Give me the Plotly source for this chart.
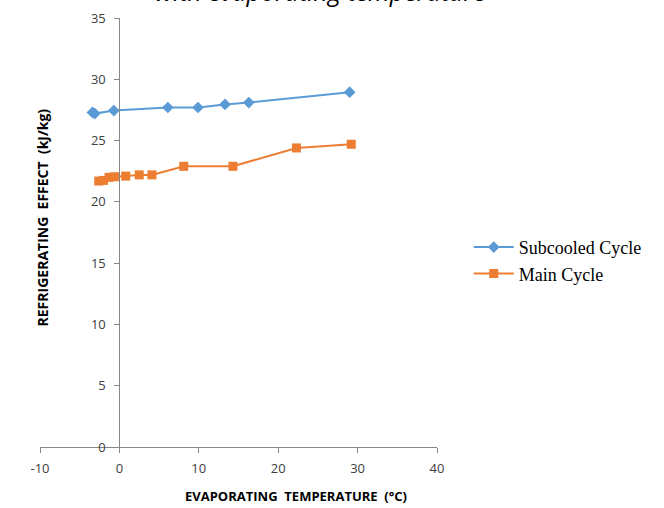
import plotly.graph_objects as go

sub_t = [-3.4, -3.1, -0.7, 6.1, 9.9, 13.3, 16.3, 29.0]
sub_v = [27.3, 27.2, 27.45, 27.7, 27.7, 27.95, 28.1, 28.95]

main_t = [-2.6, -2.0, -1.3, -0.6, 0.8, 2.5, 4.1, 8.1, 14.3, 22.3, 29.2]
main_v = [21.7, 21.75, 22.0, 22.05, 22.1, 22.2, 22.2, 22.9, 22.9, 24.4, 24.7]

x_ticks = [-10, 0, 10, 20, 30, 40]
y_ticks = [0, 5, 10, 15, 20, 25, 30, 35]

BLUE = "#5B9BD5"
ORANGE = "#ED7D31"
GRAY = "#868686"
TXT = "#404040"

fig = go.Figure()
fig.add_trace(go.Scatter(
    x=sub_t, y=sub_v, name="Subcooled Cycle", mode="lines+markers",
    line=dict(color=BLUE, width=2),
    marker=dict(symbol="diamond", size=9, color=BLUE),
))
fig.add_trace(go.Scatter(
    x=main_t, y=main_v, name="Main Cycle", mode="lines+markers",
    line=dict(color=ORANGE, width=2),
    marker=dict(symbol="square", size=9, color=ORANGE),
))

fig.update_layout(
    width=664, height=508,
    margin=dict(l=40, r=227, t=18, b=61, autoexpand=False),
    paper_bgcolor="white", plot_bgcolor="white",
    font=dict(family="Open Sans", size=12, color=TXT),
    showlegend=True,
    legend=dict(
        x=1.08, y=0.435, xanchor="left", yanchor="middle",
        font=dict(family="Liberation Serif", size=18, color="#000000"),
        bgcolor="rgba(0,0,0,0)", tracegroupgap=0, itemwidth=40,
    ),
    xaxis=dict(
        range=[-10, 40], tickvals=x_ticks, ticktext=[str(v) for v in x_ticks],
        showgrid=False, zeroline=False, showline=True, linecolor=GRAY, linewidth=1,
        ticks="outside", ticklen=5, tickcolor=GRAY, automargin=False,
        ticklabelstandoff=4,
        tickfont=dict(family="Open Sans", size=13, color=TXT),
    ),
    yaxis=dict(
        range=[0, 35], tickvals=y_ticks, ticktext=[str(v) for v in y_ticks],
        showgrid=False, zeroline=False, showline=True, linecolor=GRAY, linewidth=1,
        ticks="outside", ticklen=5, tickcolor=GRAY, automargin=False,
        anchor="free", position=0.2, ticklabelstandoff=6,
        tickfont=dict(family="Open Sans", size=13, color=TXT),
    ),
    annotations=[
        dict(text="<i>with evaporating temperature</i>", xref="paper", yref="paper",
             x=0.706, y=1, xanchor="center", yanchor="bottom", yshift=8,
             showarrow=False,
             font=dict(family="Open Sans", size=25, color="#000000"),
             ),
        dict(text="<b>EVAPORATING  TEMPERATURE  (°C)</b>", xref="paper", yref="paper",
             x=0.645, y=0, xanchor="center", yanchor="middle", yshift=-49,
             showarrow=False,
             font=dict(family="Open Sans", size=13, color="#000000")),
        dict(text="<b>REFRIGERATING  EFFECT  (kJ/kg)</b>", xref="paper", yref="paper",
             x=0, y=0.535, xanchor="center", yanchor="middle", xshift=2,
             textangle=-90, showarrow=False,
             font=dict(family="Open Sans", size=14, color="#000000")),
    ],
)

fig.write_html("out.html", config={"displayModeBar": False},
               post_script="document.body.style.margin='0px';document.body.style.overflow='hidden';")
